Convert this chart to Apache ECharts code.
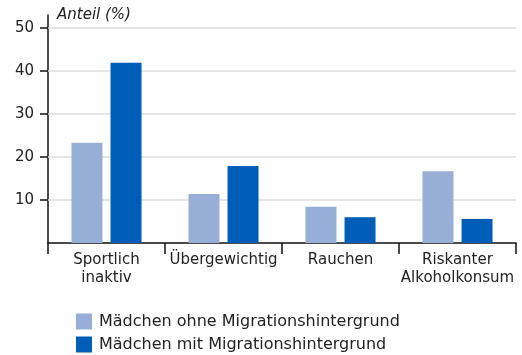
<!DOCTYPE html>
<html>
<head>
<meta charset="utf-8">
<script src="https://cdn.jsdelivr.net/npm/echarts@6/dist/echarts.min.js"></script>
<style>
  html, body { margin: 0; padding: 0; background: #fff; }
  #chart { width: 522px; height: 355px; }
</style>
</head>
<body>
<div id="chart"></div>
<script>
// Gesundheitsverhalten von Mädchen nach Migrationshintergrund (Anteil in %)
const categories = ['Sportlich\ninaktiv', 'Übergewichtig', 'Rauchen', 'Riskanter\nAlkoholkonsum'];
const ohneMigration = [23.3, 11.4, 8.4, 16.7];
const mitMigration = [41.9, 17.9, 6.0, 5.6];
const yTicks = [10, 20, 30, 40, 50];

const seriesNames = ['Mädchen ohne Migrationshintergrund', 'Mädchen mit Migrationshintergrund'];
const colors = ['#97afd6', '#005eb8'];
const FONT = '"DejaVu Sans", "Open Sans", sans-serif';
const TEXT = '#222';

const chart = echarts.init(document.getElementById('chart'), null, { renderer: 'canvas' });

chart.setOption({
  animation: false,
  textStyle: { fontFamily: FONT },
  title: {
    text: 'Anteil (%)',
    left: 52,
    top: 3,
    textStyle: { fontFamily: FONT, fontStyle: 'italic', fontWeight: 'normal', fontSize: 15, color: TEXT }
  },
  grid: { left: 48, right: 6, top: 15, bottom: 112, containLabel: false },
  legend: {
    orient: 'vertical',
    left: 76,
    top: 313,
    height: 60,
    itemWidth: 16,
    itemHeight: 16,
    itemGap: 6,
    icon: 'rect',
    padding: 0,
    textStyle: { fontFamily: FONT, fontSize: 16, lineHeight: 16, color: TEXT, padding: [1, 0, 0, 2] },
    data: seriesNames
  },
  xAxis: {
    type: 'category',
    data: categories,
    axisLine: { lineStyle: { color: '#111', width: 1.5 } },
    axisTick: { show: true, length: 11, lineStyle: { color: '#111', width: 1.5 } },
    axisLabel: { fontFamily: FONT, fontSize: 15, color: TEXT, margin: 8, lineHeight: 18, interval: 0 }
  },
  yAxis: {
    type: 'value',
    min: 0,
    max: 53,
    interval: 10,
    axisLine: { show: true, lineStyle: { color: '#111', width: 1.5 } },
    axisTick: { show: true, length: 8, customValues: yTicks, lineStyle: { color: '#111', width: 1.5 } },
    axisLabel: { customValues: yTicks, fontFamily: FONT, fontSize: 15, color: TEXT, margin: 14 },
    splitLine: { show: false }
  },
  series: [
    {
      name: seriesNames[0],
      type: 'bar',
      data: ohneMigration,
      barWidth: 31,
      barGap: '26%',
      itemStyle: { color: colors[0] },
      markLine: {
        silent: true,
        symbol: 'none',
        label: { show: false },
        z: 1,
        lineStyle: { color: '#dcdcdc', width: 1.5, type: 'solid' },
        data: yTicks.map(v => ({ yAxis: v }))
      }
    },
    {
      name: seriesNames[1],
      type: 'bar',
      data: mitMigration,
      barWidth: 31,
      itemStyle: { color: colors[1] }
    }
  ]
});
</script>
</body>
</html>
